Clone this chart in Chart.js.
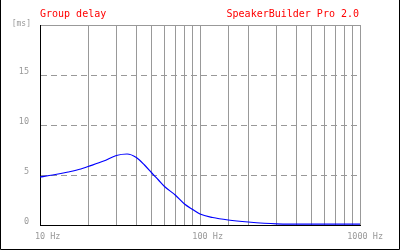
<!DOCTYPE html>
<html>
<head>
<meta charset="utf-8">
<script src="https://cdn.jsdelivr.net/npm/chart.js@4/dist/chart.umd.min.js"></script>
<style>
  html, body { margin: 0; padding: 0; background: #fff; }
  #wrap { width: 400px; height: 250px; position: relative; }
</style>
</head>
<body>
<div id="wrap"><canvas id="gdChart"></canvas></div>
<script>
// Group delay curve
var freqs = [10, 12, 15, 18, 20, 25, 30, 35, 40, 45, 50, 55, 60, 70, 80, 90, 100, 120, 150, 200, 300, 500, 1000];
var delayMs = [4.8, 5.0, 5.3, 5.6, 5.85, 6.4, 6.95, 7.1, 6.75, 6.0, 5.2, 4.5, 3.85, 3.0, 2.1, 1.55, 1.1, 0.75, 0.5, 0.3, 0.12, 0.08, 0.08];
var xLabels = [10, 100, 1000];
var yLabels = [0, 5, 10, 15];

var GRAY = '#999999';
var MONO = '"DejaVu Sans Mono", "Liberation Mono", monospace';

var decorations = {
    id: 'decorations',
    afterDraw: function(chart) {
        var ctx = chart.ctx;
        ctx.save();
        ctx.font = '10px ' + MONO;
        ctx.fillStyle = '#ff0000';
        ctx.textBaseline = 'alphabetic';
        ctx.textAlign = 'left';
        ctx.fillText('Group delay', 40, 17);
        ctx.textAlign = 'right';
        ctx.fillText('SpeakerBuilder Pro 2.0', 359, 17);

        ctx.font = '8px ' + MONO;
        ctx.fillStyle = GRAY;
        ctx.fillText('[ms]', 31, 26);

        // outer frame
        ctx.strokeStyle = '#000';
        ctx.lineWidth = 1;
        ctx.beginPath();
        ctx.moveTo(0.5, 0);
        ctx.lineTo(0.5, 249.5);
        ctx.lineTo(399.5, 249.5);
        ctx.lineTo(399.5, 0);
        ctx.stroke();
        ctx.restore();
    }
};

new Chart(document.getElementById('gdChart'), {
    type: 'line',
    data: {
        datasets: [{
            label: 'Group delay',
            data: freqs.map(function(f, i) { return { x: f, y: delayMs[i] }; }),
            borderColor: '#0000ff',
            borderWidth: 1.2,
            pointRadius: 0,
            fill: false,
            cubicInterpolationMode: 'monotone'
        }]
    },
    options: {
        responsive: true,
        maintainAspectRatio: false,
        animation: false,
        layout: { padding: { left: 0, top: 25, right: 40, bottom: 0 } },
        plugins: {
            legend: { display: false },
            tooltip: { enabled: false }
        },
        scales: {
            x: {
                type: 'logarithmic',
                min: 10,
                max: 1000,
                afterFit: function(scale) { scale.height = 25; },
                grid: { color: GRAY, lineWidth: 1, drawTicks: false },
                border: { color: '#000', width: 1 },
                ticks: {
                    autoSkip: false,
                    maxRotation: 0,
                    padding: 7,
                    color: GRAY,
                    font: { family: MONO, size: 8.5 },
                    callback: function(v) {
                        if (xLabels.indexOf(v) < 0) return '';
                        return (v >= 1000 ? '  ' : '   ') + v + ' Hz';
                    }
                }
            },
            y: {
                min: 0,
                max: 20,
                afterFit: function(scale) { scale.width = 40; },
                grid: { color: GRAY, lineWidth: 1, drawTicks: false },
                border: {
                    color: '#000',
                    width: 1,
                    dash: function(c) {
                        return (c.tick && c.tick.value > 0 && c.tick.value < 20) ? [6, 4] : [];
                    }
                },
                ticks: {
                    stepSize: 5,
                    padding: 11,
                    labelOffset: -3,
                    color: GRAY,
                    font: { family: MONO, size: 8.5 },
                    callback: function(v) {
                        return yLabels.indexOf(v) >= 0 ? String(v) : '';
                    }
                }
            }
        }
    },
    plugins: [decorations]
});
</script>
</body>
</html>
